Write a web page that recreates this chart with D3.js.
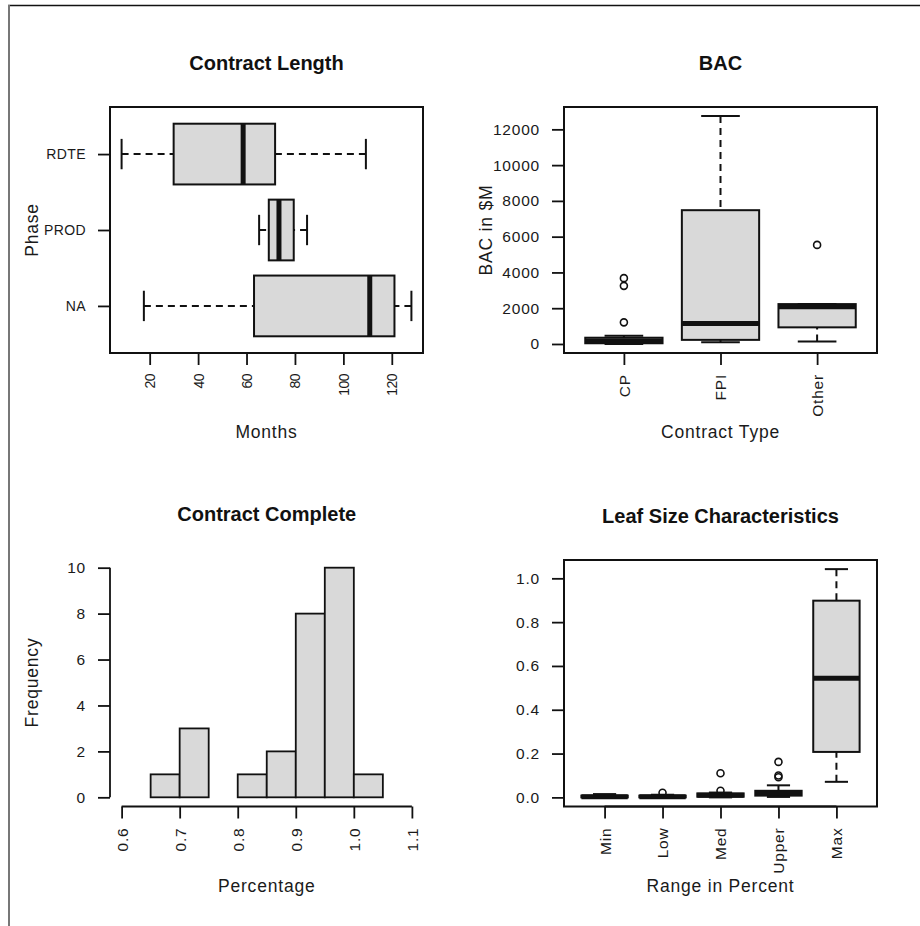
<!DOCTYPE html>
<html>
<head>
<meta charset="utf-8">
<script src="https://cdn.jsdelivr.net/npm/d3@7"></script>
<style>
body { margin: 0; background: #fff; }
svg text { font-family: "Liberation Sans", Arial, sans-serif; fill: #1a1a1a; }
.tick text { font-size: 15.5px; letter-spacing: 0.8px; }
.small .tick text { font-size: 14px; letter-spacing: -0.5px; }
.narrow .tick text { font-size: 14px; letter-spacing: 0.4px; }
.title { font-size: 20px; font-weight: bold; fill: #111; }
.lab { font-size: 17.5px; letter-spacing: 0.8px; }
</style>
</head>
<body>
<div id="chart"></div>
<script>
// ---- data ----
// five-number summaries: [lower whisker, Q1, median, Q3, upper whisker]
var phaseCats = ["NA", "PROD", "RDTE"];            // bottom to top
var phaseStats = [
  [17.6, 63.1, 110.9, 121.1, 128.1],
  [65.2, 69.2, 73.4, 79.5, 85.0],
  [8.4, 29.9, 58.6, 71.8, 109.3]
];
var monthTicks = [20, 40, 60, 80, 100, 120];

var bacCats = ["CP", "FPI", "Other"];
var bacStats = [
  [5, 40, 170, 350, 460],
  [100, 230, 1150, 7480, 12740],
  [140, 930, 2080, 2230, 2230]
];
var bacOutliers = [[1210, 3250, 3680], [], [5540]];
var bacTicks = [0, 2000, 4000, 6000, 8000, 10000, 12000];

var binEdges = [0.65, 0.70, 0.75, 0.80, 0.85, 0.90, 0.95, 1.00, 1.05];
var binCounts = [1, 3, 0, 1, 2, 8, 10, 1];
var freqTicks = [0, 2, 4, 6, 8, 10];
var pctTicks = [0.6, 0.7, 0.8, 0.9, 1.0, 1.1];

var leafCats = ["Min", "Low", "Med", "Upper", "Max"];
var leafStats = [
  [0, 0, 0.003, 0.008, 0.015],
  [0, 0, 0.003, 0.008, 0.012],
  [0, 0.003, 0.010, 0.018, 0.022],
  [0.002, 0.008, 0.018, 0.030, 0.055],
  [0.071, 0.2075, 0.544, 0.898, 1.042]
];
var leafOutliers = [[], [0.021], [0.03, 0.11], [0.092, 0.1, 0.162], []];
var leafTicks = [0, 0.2, 0.4, 0.6, 0.8, 1.0];

// ---- page ----
var svg = d3.select("#chart").append("svg")
  .attr("width", 920).attr("height", 926);

// outer frame (top and left only)
svg.append("line").attr("x1", 8).attr("x2", 920).attr("y1", 5.5).attr("y2", 5.5)
  .attr("stroke", "#111").attr("stroke-width", 1.5);
svg.append("line").attr("x1", 9).attr("x2", 9).attr("y1", 5).attr("y2", 926)
  .attr("stroke", "#777").attr("stroke-width", 2);

// R style range padding (4%)
function pad(lo, hi) {
  var d = (hi - lo) * 0.04;
  return [lo - d, hi + d];
}

function addAxis(kind, scale, pos, ticks, fmt, rotate, cls) {
  var g = svg.append("g")
    .attr("class", cls || null)
    .attr("transform", kind == "left" ? "translate(" + pos + ",0)" : "translate(0," + pos + ")");
  var axis = (kind == "left" ? d3.axisLeft(scale) : d3.axisBottom(scale))
    .tickValues(ticks).tickFormat(fmt).tickSize(12).tickPadding(12);
  g.call(axis);
  g.select(".domain").remove();
  g.selectAll(".tick line").attr("stroke", "#111").attr("stroke-width", 1.8);
  var a = scale(ticks[0]), b = scale(ticks[ticks.length - 1]);
  if (kind == "left") {
    g.append("line").attr("x1", 0).attr("x2", 0).attr("y1", a).attr("y2", b);
  } else {
    g.append("line").attr("y1", 0).attr("y2", 0).attr("x1", a).attr("x2", b);
  }
  g.select("line:last-child").attr("stroke", "#111").attr("stroke-width", 1.8);
  if (rotate) {
    g.selectAll(".tick text")
      .attr("transform", "rotate(-90)")
      .attr("text-anchor", "end")
      .attr("x", -21).attr("y", 0).attr("dy", "0.35em");
  }
  return g;
}

function labels(p, title, xlab, ylab) {
  var cx = (p.left + p.right) / 2, cy = (p.top + p.bottom) / 2;
  svg.append("text").attr("class", "title").attr("x", cx).attr("y", p.top - 37.5)
    .attr("text-anchor", "middle").text(title);
  svg.append("text").attr("class", "lab").attr("x", cx).attr("y", p.bottom + 85)
    .attr("text-anchor", "middle").text(xlab);
  if (ylab) {
    svg.append("text").attr("class", "lab")
      .attr("transform", "translate(" + (p.left - 72) + "," + cy + ") rotate(-90)")
      .attr("text-anchor", "middle").text(ylab);
  }
}

function frame(p) {
  svg.append("rect").attr("x", p.left).attr("y", p.top)
    .attr("width", p.right - p.left).attr("height", p.bottom - p.top)
    .attr("fill", "none").attr("stroke", "#111").attr("stroke-width", 2);
}

// draws R-like boxplots; pos maps group index (1..n), val maps values
function drawBoxes(stats, outs, pos, val, horizontal) {
  var g = svg.append("g");
  function xy(c, v) { return horizontal ? [val(v), pos(c)] : [pos(c), val(v)]; }
  function seg(c1, v1, c2, v2) {
    var a = xy(c1, v1), b = xy(c2, v2);
    return g.append("line").attr("x1", a[0]).attr("y1", a[1]).attr("x2", b[0]).attr("y2", b[1])
      .attr("stroke", "#111");
  }
  stats.forEach(function(s, i) {
    var c = i + 1;
    var p1 = xy(c - 0.4, s[1]), p2 = xy(c + 0.4, s[3]);
    g.append("rect")
      .attr("x", Math.min(p1[0], p2[0])).attr("y", Math.min(p1[1], p2[1]))
      .attr("width", Math.abs(p2[0] - p1[0])).attr("height", Math.abs(p2[1] - p1[1]))
      .attr("fill", "#d9d9d9").attr("stroke", "#111").attr("stroke-width", 2);
    seg(c - 0.4, s[2], c + 0.4, s[2]).attr("stroke-width", 5);
    // whiskers start at their outer end, so the dash pattern begins there
    seg(c, s[0], c, s[1]).attr("stroke-width", 2).attr("stroke-dasharray", "7,5");
    seg(c, s[4], c, s[3]).attr("stroke-width", 2).attr("stroke-dasharray", "7,5");
    seg(c - 0.2, s[0], c + 0.2, s[0]).attr("stroke-width", 2);
    seg(c - 0.2, s[4], c + 0.2, s[4]).attr("stroke-width", 2);
    (outs[i] || []).forEach(function(v) {
      var q = xy(c, v);
      g.append("circle").attr("cx", q[0]).attr("cy", q[1]).attr("r", 3.5)
        .attr("fill", "none").attr("stroke", "#111").attr("stroke-width", 1.6);
    });
  });
}

// ---- panel 1: Contract Length ----
var p1 = { left: 110, right: 423, top: 107, bottom: 353 };
var x1 = d3.scaleLinear()
  .domain(pad(d3.min(phaseStats, function(s) { return s[0]; }), d3.max(phaseStats, function(s) { return s[4]; })))
  .range([p1.left, p1.right]);
var y1 = d3.scaleLinear().domain(pad(0.5, phaseCats.length + 0.5)).range([p1.bottom, p1.top]);
drawBoxes(phaseStats, [], y1, x1, true);
frame(p1);
addAxis("bottom", x1, p1.bottom, monthTicks, d3.format("d"), true, "small");
addAxis("left", y1, p1.left, [1, 2, 3], function(d) { return phaseCats[d - 1]; }, false, "narrow");
labels(p1, "Contract Length", "Months", "Phase");

// ---- panel 2: BAC ----
var p2 = { left: 564, right: 877, top: 107, bottom: 353 };
var bacAll = d3.merge(bacStats.concat(bacOutliers));
var y2 = d3.scaleLinear().domain(pad(d3.min(bacAll), d3.max(bacAll))).range([p2.bottom, p2.top]);
var x2 = d3.scaleLinear().domain(pad(0.5, bacCats.length + 0.5)).range([p2.left, p2.right]);
drawBoxes(bacStats, bacOutliers, x2, y2, false);
frame(p2);
addAxis("left", y2, p2.left, bacTicks, d3.format("d"), false);
addAxis("bottom", x2, p2.bottom, [1, 2, 3], function(d) { return bacCats[d - 1]; }, true);
labels(p2, "BAC", "Contract Type", "BAC in $M");

// ---- panel 3: Contract Complete (histogram) ----
var p3 = { left: 110, right: 423.5, top: 558.5, bottom: 806.5 };
var x3 = d3.scaleLinear().domain(pad(pctTicks[0], pctTicks[pctTicks.length - 1])).range([p3.left, p3.right]);
var y3 = d3.scaleLinear().domain(pad(0, d3.max(binCounts))).range([p3.bottom, p3.top]);
svg.append("g").selectAll("rect").data(binCounts).join("rect")
  .attr("x", function(d, i) { return x3(binEdges[i]); })
  .attr("width", function(d, i) { return x3(binEdges[i + 1]) - x3(binEdges[i]); })
  .attr("y", function(d) { return y3(d); })
  .attr("height", function(d) { return y3(0) - y3(d); })
  .attr("fill", "#d9d9d9").attr("stroke", "#111").attr("stroke-width", 1.8);
addAxis("bottom", x3, p3.bottom, pctTicks, d3.format(".1f"), true);
addAxis("left", y3, p3.left, freqTicks, d3.format("d"), false);
labels(p3, "Contract Complete", "Percentage", "Frequency");

// ---- panel 4: Leaf Size Characteristics ----
var p4 = { left: 564, right: 877, top: 560, bottom: 806.5 };
var leafAll = d3.merge(leafStats.concat(leafOutliers));
var y4 = d3.scaleLinear().domain(pad(d3.min(leafAll), d3.max(leafAll))).range([p4.bottom, p4.top]);
var x4 = d3.scaleLinear().domain(pad(0.5, leafCats.length + 0.5)).range([p4.left, p4.right]);
drawBoxes(leafStats, leafOutliers, x4, y4, false);
frame(p4);
addAxis("left", y4, p4.left, leafTicks, d3.format(".1f"), false);
addAxis("bottom", x4, p4.bottom, [1, 2, 3, 4, 5], function(d) { return leafCats[d - 1]; }, true);
labels(p4, "Leaf Size Characteristics", "Range in Percent", null);
</script>
</body>
</html>
